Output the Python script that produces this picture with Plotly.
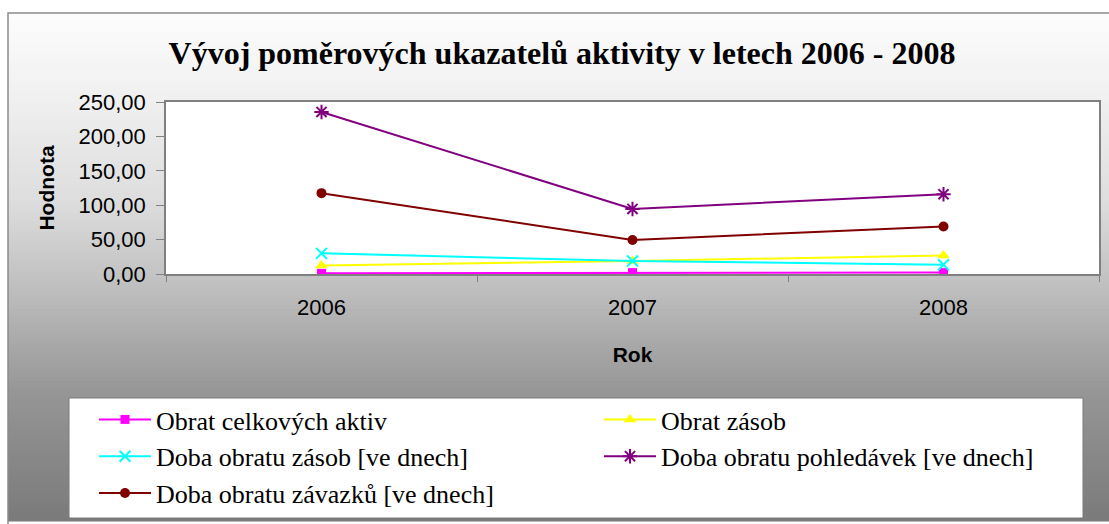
import numpy as np
import plotly.graph_objects as go

YEARS = ["2006", "2007", "2008"]
OBRAT_AKTIV = [1.0, 2.0, 2.1]
OBRAT_ZASOB = [12.5, 19.0, 27.0]
DOBA_ZASOB = [30.0, 19.0, 13.5]
DOBA_POHLEDAVEK = [235.5, 94.5, 116.0]
DOBA_ZAVAZKU = [117.5, 49.5, 69.0]
Y_TICKS = [0, 50, 100, 150, 200, 250]

SERIES = [
    ("Obrat celkových aktiv", OBRAT_AKTIV, "#FF00FF", "square", 9),
    ("Obrat zásob", OBRAT_ZASOB, "#FFFF00", "triangle-up", 11),
    ("Doba obratu zásob [ve dnech]", DOBA_ZASOB, "#00FFFF", "x-thin-open", 11),
    ("Doba obratu pohledávek [ve dnech]", DOBA_POHLEDAVEK, "#800080", "asterisk-open", 12),
    ("Doba obratu závazků [ve dnech]", DOBA_ZAVAZKU, "#800000", "circle", 10),
]

W, H = 1109, 524
L, R, T, B = 166, 10, 102, 250
PW, PH = W - L - R, H - T - B


def px_x(px):
    return (px - L) / PW


def px_y(py):
    return 1 - (py - T) / PH


fig = go.Figure()
for name, vals, color, symbol, size in SERIES:
    open_sym = symbol.endswith("open")
    fig.add_trace(
        go.Scatter(
            x=YEARS,
            y=vals,
            name=name,
            mode="lines+markers",
            line=dict(color=color, width=2),
            marker=dict(
                symbol=symbol,
                size=size,
                color=color,
                line=dict(color=color, width=2 if open_sym else 0),
            ),
        )
    )

# background gradient (Excel style), drawn as thin strips
stops_y = [13, 100, 200, 280, 393, 524]
stops_v = [253, 240, 222, 194, 150, 122]
shapes = []
edges = np.arange(13, 525, 4)
for y0, y1 in zip(edges[:-1], edges[1:]):
    g = int(np.interp((y0 + y1) / 2, stops_y, stops_v))
    shapes.append(dict(
        type="rect", xref="paper", yref="paper", layer="below",
        x0=px_x(8), x1=px_x(1112), y0=px_y(y1 + 0.5), y1=px_y(y0),
        fillcolor=f"rgb({g},{g},{g})", line=dict(width=0),
    ))
# chart frame
shapes.append(dict(
    type="rect", xref="paper", yref="paper", layer="below",
    x0=px_x(8), x1=px_x(1112), y0=px_y(530), y1=px_y(13),
    line=dict(color="#8a8a8a", width=1.5),
))
# plot area
shapes.append(dict(
    type="rect", xref="paper", yref="paper", layer="below",
    x0=0, x1=1, y0=0, y1=1, fillcolor="white", line=dict(width=0),
))
# legend box
shapes.append(dict(
    type="rect", xref="paper", yref="paper", layer="below",
    x0=px_x(69), x1=px_x(1083), y0=px_y(518), y1=px_y(398),
    fillcolor="white", line=dict(color="#7a7a7a", width=1),
))

tick_font = dict(family="Liberation Sans, Arial", size=22, color="black")
title_font = dict(family="Liberation Sans, Arial", size=21, color="black", weight="bold")

fig.update_layout(
    width=W,
    height=H,
    margin=dict(l=L, r=R, t=T, b=B, autoexpand=False),
    paper_bgcolor="white",
    plot_bgcolor="white",
    separators=", ",
    shapes=shapes,
    title=dict(
        text="Vývoj poměrových ukazatelů aktivity v letech 2006 - 2008",
        x=562 / W, xref="container", xanchor="center",
        y=1 - 53 / H, yref="container", yanchor="middle",
        font=dict(family="Liberation Serif, Times New Roman", size=32,
                  color="black", weight="bold"),
    ),
    xaxis=dict(
        type="category",
        range=[-0.5, 2.5],
        showline=True, linecolor="#808080", linewidth=1.5, mirror=True,
        ticks="outside", tickson="boundaries", ticklen=6, tickcolor="#808080",
        tickfont=tick_font, ticklabelstandoff=13,
        showgrid=False,
        title=dict(text="Rok", font=title_font, standoff=28),
    ),
    yaxis=dict(
        range=[0, 250],
        tickvals=Y_TICKS,
        tickformat=".2f",
        showline=True, linecolor="#808080", linewidth=1.5, mirror=True,
        ticks="outside", ticklen=8, tickcolor="#808080",
        tickfont=tick_font, ticklabelstandoff=6,
        showgrid=False, zeroline=False,
        title=dict(text="Hodnota", font=title_font, standoff=18),
    ),
    legend=dict(
        orientation="h",
        x=px_x(94), y=px_y(396), xanchor="left", yanchor="top",
        entrywidth=438, itemwidth=52,
        bgcolor="rgba(0,0,0,0)", borderwidth=0,
        font=dict(family="Liberation Serif, Times New Roman", size=26, color="black"),
    ),
)

fig.write_html(
    "out.html",
    config={"displayModeBar": False},
    post_script="document.body.style.margin='0';",
)
